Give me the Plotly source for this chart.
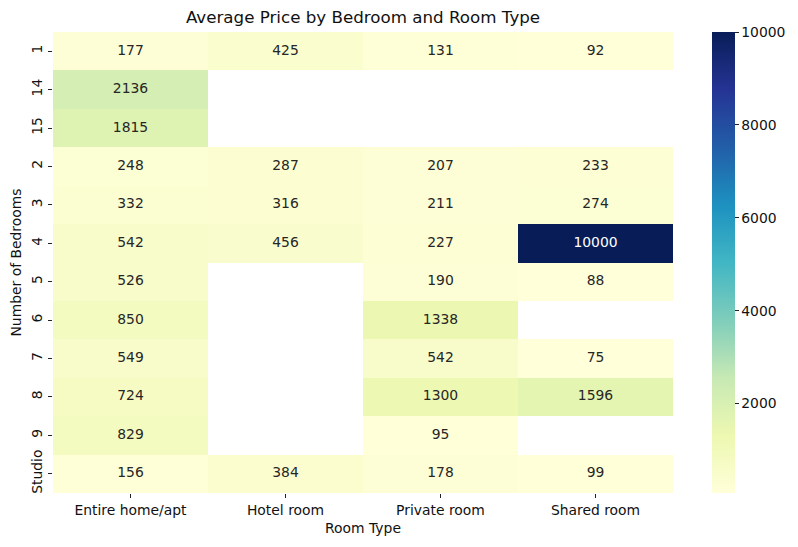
import plotly.graph_objects as go

bedrooms = ["1", "14", "15", "2", "3", "4", "5", "6", "7", "8", "9", "Studio"]
room_types = ["Entire home/apt", "Hotel room", "Private room", "Shared room"]
entire_home = [177, 2136, 1815, 248, 332, 542, 526, 850, 549, 724, 829, 156]
hotel_room = [425, None, None, 287, 316, 456, None, None, None, None, None, 384]
private_room = [131, None, None, 207, 211, 227, 190, 1338, 542, 1300, 95, 178]
shared_room = [92, None, None, 233, 274, 10000, 88, None, 75, 1596, None, 99]
cbar_ticks = [2000, 4000, 6000, 8000, 10000]

columns = [entire_home, hotel_room, private_room, shared_room]
z = [[columns[c][r] for c in range(len(room_types))] for r in range(len(bedrooms))]

vals = [v for col in columns for v in col if v is not None]
zmin, zmax = min(vals), max(vals)

ylgnbu = ["#ffffd9", "#edf8b1", "#c7e9b4", "#7fcdbb", "#41b6c4",
          "#1d91c0", "#225ea8", "#253494", "#081d58"]
colorscale = [[i / (len(ylgnbu) - 1), c] for i, c in enumerate(ylgnbu)]

FONT = "DejaVu Sans"
fig = go.Figure()
fig.add_trace(go.Heatmap(
    z=z, x=room_types, y=bedrooms, colorscale=colorscale, zmin=zmin, zmax=zmax,
    hoverongaps=False,
    colorbar=dict(x=1.0624, xanchor="left", xpad=0, y=0.5, yanchor="middle", len=1,
                  lenmode="fraction", ypad=0, thickness=23, outlinewidth=0,
                  ticks="outside", ticklen=4, tickcolor="#222",
                  tickvals=cbar_ticks, ticktext=[str(t) for t in cbar_ticks],
                  tickfont=dict(family=FONT, size=13.9, color="#111")),
))

tx, ty, tt, tc = [], [], [], []
for r, b in enumerate(bedrooms):
    for c, rt in enumerate(room_types):
        v = z[r][c]
        if v is None:
            continue
        tx.append(rt); ty.append(b); tt.append(str(int(v)))
        frac = (v - zmin) / (zmax - zmin)
        tc.append("white" if frac > 0.45 else "#262626")
fig.add_trace(go.Scatter(x=tx, y=ty, text=tt, mode="text",
                         textfont=dict(family=FONT, size=13.9, color=tc),
                         hoverinfo="skip", showlegend=False))

fig.update_layout(
    width=798, height=547,
    margin=dict(l=53, r=125, t=32, b=54, autoexpand=False),
    paper_bgcolor="white", plot_bgcolor="white",
    font=dict(family=FONT, color="#111"),
    title=dict(text="Average Price by Bedroom and Room Type", x=0.5, xanchor="center",
               xref="paper", y=1 - 17 / 547, yref="container", yanchor="middle",
               font=dict(family=FONT, size=16.7, color="#111")),
    xaxis=dict(type="category", showgrid=False, zeroline=False, showline=False,
               ticks="outside", ticklen=4, tickcolor="#222",
               tickfont=dict(family=FONT, size=13.9, color="#111"),
               title=dict(text="Room Type", font=dict(family=FONT, size=13.9, color="#111"),
                          standoff=6),
               range=[-0.5, 3.5]),
    yaxis=dict(type="category", showgrid=False, zeroline=False, showline=False,
               ticks="outside", ticklen=4, tickcolor="#222", tickangle=-90,
               tickfont=dict(family=FONT, size=13.9, color="#111"),
               title=dict(text="Number of Bedrooms", font=dict(family=FONT, size=13.9, color="#111"),
                          standoff=4),
               range=[11.5, -0.5]),
)
fig.write_html("out.html")
